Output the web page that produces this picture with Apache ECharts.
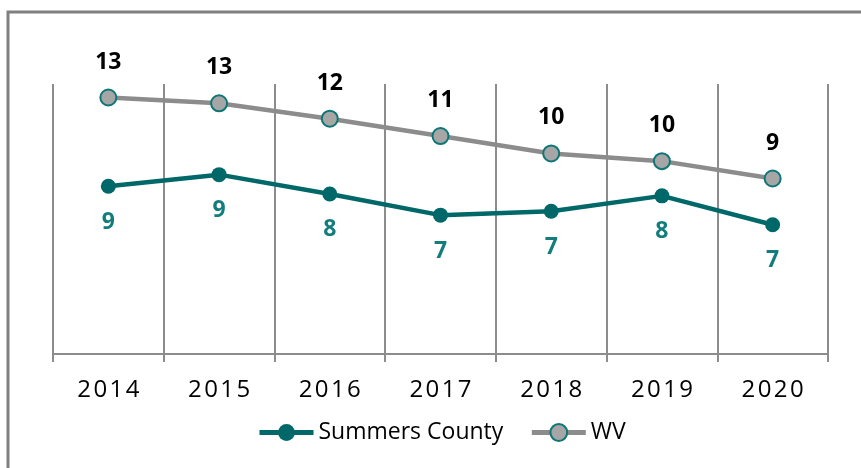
<!DOCTYPE html>
<html>
<head>
<meta charset="utf-8">
<script src="https://cdn.jsdelivr.net/npm/echarts@6/dist/echarts.min.js"></script>
<style>
  html, body { margin: 0; padding: 0; background: #fff; }
  #container { width: 861px; height: 468px; }
</style>
</head>
<body>
<div id="container"></div>
<script>
var years = ['2014', '2015', '2016', '2017', '2018', '2019', '2020']
var summersCounty = [8.7, 9.3, 8.3, 7.2, 7.4, 8.2, 6.7]
var wv = [13.3, 13.0, 12.2, 11.3, 10.4, 10.0, 9.1]

var teal = '#006868'
var tealText = '#137d7d'
var font = 'Open Sans'

var dom = document.getElementById('container')
var myChart = echarts.init(dom)

function spaced(s) {
  return s.split('').join('\u200a')
}

var option = {
  backgroundColor: '#fff',
  animation: false,
  graphic: [{
    type: 'rect',
    shape: { x: 8, y: 12, width: 900, height: 500 },
    style: { fill: 'none', stroke: '#808080', lineWidth: 3 }
  }],
  grid: {
    left: 53,
    right: 33,
    top: 84,
    bottom: 114
  },
  legend: {
    left: 257,
    top: 421,
    padding: 0,
    itemWidth: 54,
    itemHeight: 21,
    itemGap: 26,
    lineStyle: { width: 5 },
    textStyle: {
      fontFamily: font,
      fontSize: 23,
      color: '#000'
    },
    data: ['Summers County', 'WV']
  },
  xAxis: {
    type: 'category',
    data: years,
    boundaryGap: true,
    axisLine: { lineStyle: { color: '#8c8c8c', width: 2 } },
    axisTick: { show: true, length: 8, lineStyle: { color: '#8c8c8c', width: 2 } },
    splitLine: { show: true, lineStyle: { color: '#8c8c8c', width: 2 } },
    axisLabel: {
      margin: 24,
      fontFamily: font,
      fontSize: 24,
      color: '#000',
      formatter: spaced
    }
  },
  yAxis: {
    type: 'value',
    min: 0,
    max: 14,
    show: false,
    splitLine: { show: false }
  },
  series: [{
    name: 'Summers County',
    type: 'line',
    data: summersCounty,
    symbol: 'circle',
    symbolSize: 15,
    lineStyle: { color: teal, width: 4.5 },
    itemStyle: { color: teal },
    label: {
      show: true,
      position: 'bottom',
      distance: 17,
      fontFamily: font,
      fontWeight: 'bold',
      fontSize: 23,
      color: tealText,
      formatter: function(p) { return Math.round(p.value) }
    },
    z: 3
  }, {
    name: 'WV',
    type: 'line',
    data: wv,
    symbol: 'circle',
    symbolSize: 16,
    lineStyle: { color: '#8c8c8c', width: 4.5 },
    itemStyle: { color: '#a6a6a6', borderColor: '#0e7676', borderWidth: 2 },
    label: {
      show: true,
      position: 'top',
      distance: 15,
      fontFamily: font,
      fontWeight: 'bold',
      fontSize: 23,
      color: '#000',
      formatter: function(p) { return Math.round(p.value) }
    },
    z: 2
  }]
}

myChart.setOption(option)
</script>
</body>
</html>
